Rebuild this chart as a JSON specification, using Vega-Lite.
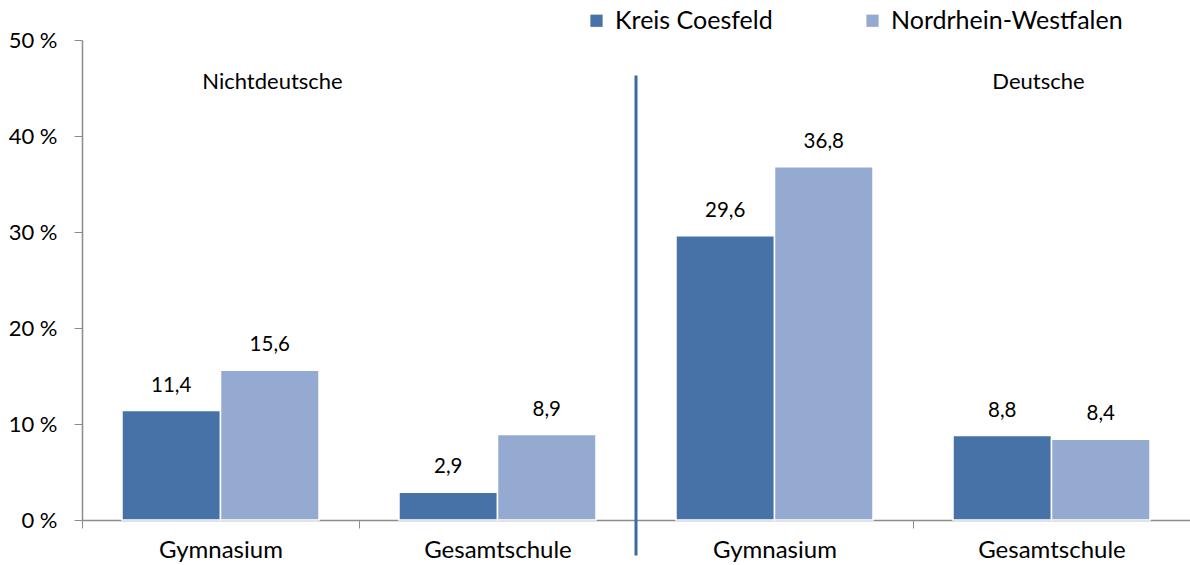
{
  "$schema": "https://vega.github.io/schema/vega-lite/v6.json",
  "width": 1108,
  "height": 480,
  "autosize": {"type": "none"},
  "padding": {"left": 82, "top": 40, "right": 0, "bottom": 45},
  "background": "white",
  "config": {
    "font": "Lato",
    "view": {"stroke": null},
    "locale": {"number": {"decimal": ",", "thousands": ".", "grouping": [3], "currency": ["", " €"]}}
  },
  "datasets": {
    "bars": [
      {"slot": "N|Gymnasium", "series": "Kreis Coesfeld", "value": 11.4},
      {"slot": "N|Gymnasium", "series": "Nordrhein-Westfalen", "value": 15.6},
      {"slot": "N|Gesamtschule", "series": "Kreis Coesfeld", "value": 2.9},
      {"slot": "N|Gesamtschule", "series": "Nordrhein-Westfalen", "value": 8.9},
      {"slot": "D|Gymnasium", "series": "Kreis Coesfeld", "value": 29.6},
      {"slot": "D|Gymnasium", "series": "Nordrhein-Westfalen", "value": 36.8},
      {"slot": "D|Gesamtschule", "series": "Kreis Coesfeld", "value": 8.8},
      {"slot": "D|Gesamtschule", "series": "Nordrhein-Westfalen", "value": 8.4}
    ],
    "groups": [
      {"slot": "N|Gymnasium", "group": "Nichtdeutsche"},
      {"slot": "D|Gesamtschule", "group": "Deutsche"}
    ],
    "divider": [
      {"slot": "D|Gymnasium"}
    ]
  },
  "resolve": {"scale": {"x": "shared", "y": "shared"}},
  "layer": [
    {
      "data": {"name": "bars"},
      "mark": {"type": "bar", "stroke": "white", "strokeWidth": 1.5},
      "encoding": {
        "x": {
          "field": "slot",
          "type": "nominal",
          "sort": ["N|Gymnasium", "N|Gesamtschule", "D|Gymnasium", "D|Gesamtschule"],
          "scale": {"domain": ["N|Gymnasium", "N|Gesamtschule", "D|Gymnasium", "D|Gesamtschule"], "paddingInner": 0, "paddingOuter": 0},
          "axis": {
            "title": null,
            "labelAngle": 0,
            "labelExpr": "split(datum.label, '|')[1]",
            "labelFontSize": 24,
            "labelColor": "#000000",
            "labelPadding": 10,
            "labelBaseline": "top",
            "tickBand": "extent",
            "tickSize": 8,
            "tickColor": "#8c8c8c",
            "domainColor": "#8c8c8c",
            "domainWidth": 1.5,
            "grid": false
          }
        },
        "y": {
          "field": "value",
          "type": "quantitative",
          "scale": {"domain": [0, 50]},
          "axis": {
            "title": null,
            "values": [0, 10, 20, 30, 40, 50],
            "labelExpr": "datum.value + ' %'",
            "labelFontSize": 22,
            "labelColor": "#000000",
            "labelPadding": 17,
            "tickSize": 8,
            "tickColor": "#8c8c8c",
            "domainColor": "#8c8c8c",
            "domainWidth": 1.5,
            "grid": false
          }
        },
        "xOffset": {
          "field": "series",
          "type": "nominal",
          "scale": {"paddingInner": 0, "paddingOuter": 0.406}
        },
        "color": {
          "field": "series",
          "type": "nominal",
          "scale": {"domain": ["Kreis Coesfeld", "Nordrhein-Westfalen"], "range": ["#4672a8", "#95aad1"]},
          "legend": {
            "title": null,
            "orient": "none",
            "direction": "horizontal",
            "legendX": 502,
            "legendY": -32,
            "symbolType": "square",
            "symbolSize": 150,
            "symbolStrokeWidth": 0,
            "labelFontSize": 25,
            "labelLimit": 400,
            "labelColor": "#000000",
            "labelOffset": 6,
            "columnPadding": 87
          }
        }
      }
    },
    {
      "data": {"name": "bars"},
      "mark": {"type": "text", "fontSize": 20.5, "color": "#000000", "baseline": "middle", "dy": -25},
      "encoding": {
        "x": {"field": "slot", "type": "nominal"},
        "y": {"field": "value", "type": "quantitative"},
        "xOffset": {"field": "series", "type": "nominal", "scale": {"paddingInner": 0, "paddingOuter": 0.406}},
        "text": {"field": "value", "type": "quantitative", "format": ".1f"}
      }
    },
    {
      "data": {"name": "divider"},
      "mark": {"type": "rule", "color": "#3d6aa3", "strokeWidth": 3, "clip": false},
      "encoding": {
        "x": {"field": "slot", "type": "nominal", "bandPosition": 0},
        "y": {"datum": 46.3},
        "y2": {"datum": -3.7}
      }
    },
    {
      "data": {"name": "groups"},
      "transform": [{"filter": "datum.group === 'Nichtdeutsche'"}],
      "mark": {"type": "text", "fontSize": 22, "color": "#000000", "baseline": "middle", "dx": 52},
      "encoding": {
        "x": {"field": "slot", "type": "nominal"},
        "y": {"datum": 45.6},
        "text": {"field": "group", "type": "nominal"}
      }
    },
    {
      "data": {"name": "groups"},
      "transform": [{"filter": "datum.group === 'Deutsche'"}],
      "mark": {"type": "text", "fontSize": 22, "color": "#000000", "baseline": "middle", "dx": -13},
      "encoding": {
        "x": {"field": "slot", "type": "nominal"},
        "y": {"datum": 45.6},
        "text": {"field": "group", "type": "nominal"}
      }
    }
  ]
}
